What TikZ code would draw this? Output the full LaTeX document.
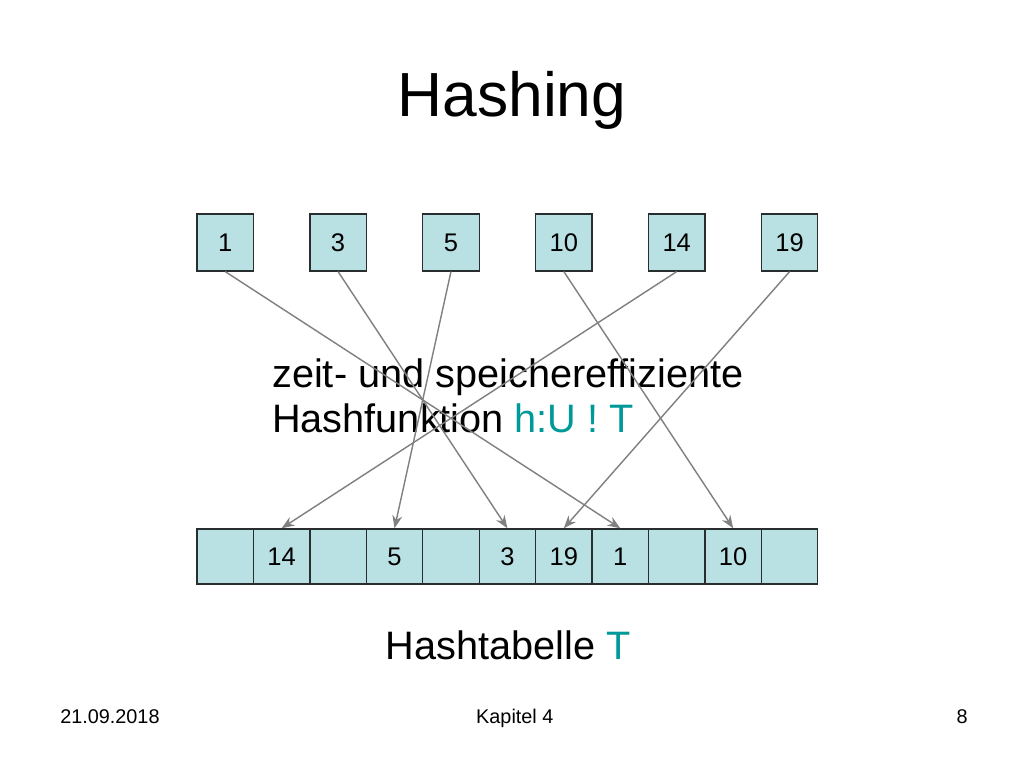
\documentclass[tikz,border=0pt]{standalone}
\usepackage{fontspec}
\setmainfont{Liberation Sans}
\usepackage{xcolor}
\usepackage{tikz}
\usetikzlibrary{arrows.meta,positioning,calc}

\definecolor{cellfill}{RGB}{185,224,226}
\definecolor{hashteal}{RGB}{0,153,153}
\definecolor{arrowgray}{RGB}{128,128,128}
\definecolor{boxline}{RGB}{40,45,45}

\tikzset{
  keybox/.style={draw=boxline, line width=0.9pt, fill=cellfill, minimum width=1.4cm, minimum height=1.414cm, inner sep=0pt, font=\fontsize{18}{21}\selectfont},
  cellbox/.style={draw=boxline, line width=0.9pt, fill=cellfill, minimum width=1.4cm, minimum height=1.364cm, inner sep=0pt, font=\fontsize{18}{21}\selectfont},
  hasharrow/.style={-{Stealth[length=9pt,width=7pt]}, draw=arrowgray, fill=arrowgray, line width=1pt},
  footer/.style={inner sep=0pt, font=\fontsize{14}{16}\selectfont}
}

\begin{document}
\begin{tikzpicture}
\useasboundingbox (0,0) rectangle (25.4,19.05);

% Title
\node[inner sep=0pt, anchor=base, font=\fontsize{44}{53}\selectfont] (title) at (12.7,16.15) {Hashing};

% Hash table T
\foreach \i/\lab in {0/{},1/14,2/{},3/5,4/{},5/3,6/19,7/1,8/{},9/10,10/{}}
  \node[cellbox] (cell\i) at ({5.586+1.4*\i},5.249) {\lab};

% Keys
\foreach \k/\lab in {0/1,1/3,2/5,3/10,4/14,5/19}
  \node[keybox] (key\lab) at ({5.586+2.8*\k},13.036) {\lab};

% Hash function text
\node[inner sep=0pt, anchor=base west, align=left, font=\fontsize{28}{32.3}\selectfont] (hashfn) at (6.747,8.311)
  {zeit- und speichereffiziente\\Hashfunktion \textcolor{hashteal}{h:U ! T}};

% Connections
\draw[hasharrow] (key1.south) -- (cell7.north);
\draw[hasharrow] (key3.south) -- (cell5.north);
\draw[hasharrow] (key5.south) -- (cell3.north);
\draw[hasharrow] (key10.south) -- (cell9.north);
\draw[hasharrow] (key14.south) -- (cell1.north);
\draw[hasharrow] (key19.south) -- (cell6.north);

% Caption
\node[inner sep=0pt, anchor=base, font=\fontsize{28}{32}\selectfont] (caption) at (12.6,2.68) {Hashtabelle \textcolor{hashteal}{T}};

% Footer
\node[footer, anchor=base west] (date) at (1.488,1.095) {21.09.2018};
\node[footer, anchor=base] (chapter) at (12.77,1.095) {Kapitel 4};
\node[footer, anchor=base east] (page) at (24.01,1.095) {8};
\end{tikzpicture}
\end{document}
